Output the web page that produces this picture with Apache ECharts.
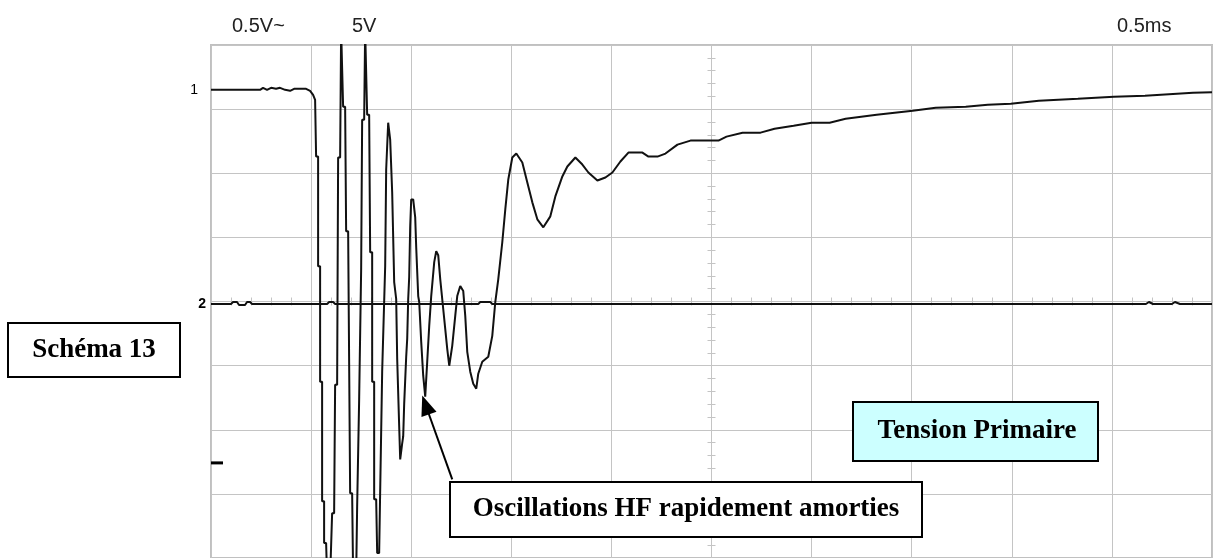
<!DOCTYPE html>
<html><head><meta charset="utf-8">
<script src="https://cdn.jsdelivr.net/npm/echarts@6/dist/echarts.min.js"></script>
<style>html,body{margin:0;padding:0;background:#fff;}#c{width:1218px;height:558px;}</style>
</head><body><div id="c"></div>
<script>
// Channel 1 (primary voltage) — time in divisions (0.5 ms/div), level in divisions
const ch1Time = [0,0.49,0.52,0.56,0.60,0.65,0.69,0.74,0.79,0.83,0.95,0.99,1.02,1.04,
 1.05,1.07,1.07,1.09,1.09,1.11,1.11,1.13,1.13,1.15,1.16,1.19,1.21,1.23,1.24,1.26,1.27,1.29,1.30,1.31,
 1.32,1.34,1.35,1.37,1.39,1.41,1.42,1.45,1.46,1.47,1.48,1.49,1.50,1.51,1.51,1.53,1.54,1.55,
 1.56,1.58,1.59,1.61,1.61,1.63,1.63,1.65,1.66,1.68,1.69,1.70,1.71,1.72,1.74,1.75,1.76,1.77,1.78,
 1.79,1.80,1.81,1.82,1.83,1.85,1.86,1.87,1.88,1.89,1.90,1.91,1.92,1.93,1.94,1.95,1.96,1.97,1.98,1.99,2.00,
 2.02,2.04,2.05,2.06,2.07,2.08,2.10,2.12,2.14,2.15,2.16,2.18,2.20,2.23,2.25,2.27,2.29,2.32,2.34,2.36,2.38,2.39,
 2.41,2.44,2.46,2.49,2.50,2.52,2.54,2.56,2.59,2.62,2.65,2.67,2.71,2.77,2.81,2.84,2.87,2.91,2.94,2.97,3.01,3.05,
 3.11,3.16,3.21,3.26,3.32,3.39,3.44,3.51,3.56,3.64,3.71,3.77,3.86,3.94,4.01,4.09,4.17,4.31,4.37,4.46,4.54,4.66,4.79,
 5.07,5.15,5.31,5.49,5.63,5.82,6.00,6.18,6.34,6.65,6.83,7.01,7.24,7.54,7.76,7.99,8.27,8.66,9.02,9.33,9.49,9.81,10.00];
const ch1Volt = [7.301,7.301,7.332,7.301,7.332,7.317,7.332,7.301,7.286,7.317,7.317,7.286,7.223,7.146,
 6.260,6.260,4.551,4.551,2.750,2.750,0.885,0.885,0.233,0.233,-0.311,-0.311,0.699,0.699,2.703,2.703,6.245,6.245,8.233,8.233,
 7.037,7.037,5.095,5.095,1.010,1.010,-0.311,-0.311,0.808,0.808,2.470,2.470,4.505,4.505,6.835,6.835,8.233,8.233,
 6.913,6.913,4.769,4.769,2.750,2.750,0.917,0.917,0.078,0.078,1.041,1.041,2.905,2.905,4.551,6.058,6.058,6.788,6.804,
 6.524,6.493,5.701,5.701,4.303,4.039,3.107,3.107,2.050,1.538,1.538,1.786,1.895,2.408,2.408,3.138,3.417,4.039,4.381,5.173,5.592,
 5.592,5.313,4.847,4.816,4.085,3.992,3.371,2.843,2.517,2.532,3.060,3.619,4.085,4.614,4.784,4.722,4.350,3.883,3.573,3.262,2.998,2.998,
 3.309,3.775,4.085,4.241,4.272,4.163,3.775,3.216,2.905,2.718,2.641,2.874,3.060,3.138,3.464,3.992,4.350,4.924,5.437,5.903,6.245,6.307,
 6.167,5.856,5.546,5.282,5.157,5.328,5.639,5.950,6.105,6.245,6.136,6.012,5.887,5.934,6.012,6.183,6.322,6.322,6.260,6.260,6.307,6.447,6.509,
 6.509,6.571,6.633,6.633,6.695,6.742,6.788,6.788,6.850,6.913,6.944,6.975,7.021,7.037,7.068,7.083,7.130,7.161,7.192,7.208,7.223,7.254,7.262];

// Channel 2 — flat trace with small glitches
const ch2Time = [0,0.20,0.22,0.26,0.28,0.34,0.36,0.39,0.41,1.16,1.18,1.22,1.24,2.67,2.69,2.79,2.81,9.34,9.37,9.41,9.60,9.63,9.68,10];
const ch2Volt = [3.961,3.961,3.992,3.992,3.946,3.946,3.992,3.992,3.961,3.961,3.992,3.992,3.961,3.961,3.992,3.992,3.961,3.961,3.992,3.961,3.961,3.992,3.961,3.961];

const channelLabels = ['1', '2'];
const groundMarker = [0.06, 1.483];
const settingLabels = ['0.5V~', '5V', '0.5ms'];
const arrowFrom = [2.41, 1.227];
const arrowTo = [2.144, 2.386];
const boxTexts = ['Schéma 13', 'Tension Primaire', 'Oscillations HF rapidement amorties'];

const ch1 = ch1Time.map((t, i) => [t, ch1Volt[i]]);
const ch2 = ch2Time.map((t, i) => [t, ch2Volt[i]]);

const gridCol = '#c4c4c4';
const hid = {show: false};

const chart = echarts.init(document.getElementById('c'), null, {renderer: 'canvas'});
chart.setOption({
  animation: false,
  backgroundColor: '#fff',
  grid: {left: 211, top: 45, right: 6, bottom: -2, show: true, borderColor: '#c0c0c0', borderWidth: 2, backgroundColor: 'transparent'},
  xAxis: [
    {type: 'value', min: 0, max: 10, interval: 1, axisLine: hid, axisTick: hid, axisLabel: hid,
     splitLine: {show: true, lineStyle: {color: gridCol, width: 1}}},
    {type: 'value', min: 0, max: 10, interval: 0.2, position: 'bottom',
     axisLine: {show: true, onZero: true, onZeroAxisIndex: 1, lineStyle: {color: gridCol, width: 1}},
     axisTick: {show: true, inside: true, length: 4, lineStyle: {color: gridCol, width: 1}}, axisLabel: hid, splitLine: hid},
    {type: 'value', min: 0, max: 10, interval: 0.2, position: 'bottom',
     axisLine: {show: true, onZero: true, onZeroAxisIndex: 1, lineStyle: {color: gridCol, width: 1}},
     axisTick: {show: true, inside: false, length: 4, lineStyle: {color: gridCol, width: 1}}, axisLabel: hid, splitLine: hid},
    {type: 'value', min: -5, max: 5, axisLine: hid, axisTick: hid, axisLabel: hid, splitLine: hid}
  ],
  yAxis: [
    {type: 'value', min: 0, max: 8, interval: 1, axisLine: hid, axisTick: hid, axisLabel: hid,
     splitLine: {show: true, lineStyle: {color: gridCol, width: 1}}},
    {type: 'value', min: -4, max: 4, axisLine: hid, axisTick: hid, axisLabel: hid, splitLine: hid},
    {type: 'value', min: 0, max: 8, interval: 0.2, position: 'left',
     axisLine: {show: true, onZero: true, onZeroAxisIndex: 3, lineStyle: {color: gridCol, width: 1}},
     axisTick: {show: true, inside: true, length: 4, lineStyle: {color: gridCol, width: 1}}, axisLabel: hid, splitLine: hid},
    {type: 'value', min: 0, max: 8, interval: 0.2, position: 'left',
     axisLine: {show: true, onZero: true, onZeroAxisIndex: 3, lineStyle: {color: gridCol, width: 1}},
     axisTick: {show: true, inside: false, length: 4, lineStyle: {color: gridCol, width: 1}}, axisLabel: hid, splitLine: hid}
  ],
  series: [
    {type: 'line', name: 'ch2', xAxisIndex: 0, yAxisIndex: 0, data: ch2, showSymbol: false, symbol: 'none',
     lineStyle: {color: '#111', width: 2}, z: 3,
     markPoint: {silent: true, animation: false, data: [
       {coord: [0, ch2Volt[0]], symbol: 'circle', symbolSize: 0,
        label: {show: true, formatter: channelLabels[1], position: 'left', distance: 5, color: '#000', fontFamily: 'Liberation Sans', fontSize: 14, fontWeight: 'bold'}},
       {coord: groundMarker, symbol: 'rect', symbolSize: [12, 3], itemStyle: {color: '#000'}, label: {show: false}}
     ]}},
    {type: 'line', name: 'ch1', xAxisIndex: 0, yAxisIndex: 0, data: ch1, showSymbol: false, symbol: 'none',
     lineStyle: {color: '#111', width: 2}, z: 4, clip: true,
     markPoint: {silent: true, animation: false, data: [
       {coord: [0, ch1Volt[0]], symbol: 'circle', symbolSize: 0,
        label: {show: true, formatter: channelLabels[0], position: 'left', distance: 13, color: '#000', fontFamily: 'Liberation Sans', fontSize: 14}}
     ]},
     markLine: {silent: true, animation: false, symbol: ['none', 'triangle'], symbolSize: [16, 20],
       lineStyle: {color: '#000', width: 2, type: 'solid'}, label: {show: false},
       data: [[{coord: arrowFrom}, {coord: arrowTo}]]}}
  ],
  graphic: [
    {type: 'text', x: 232, y: 26, style: {text: settingLabels[0], font: '20px "Liberation Sans", Arial, sans-serif', fill: '#222', verticalAlign: 'middle'}},
    {type: 'text', x: 352, y: 26, style: {text: settingLabels[1], font: '20px "Liberation Sans", Arial, sans-serif', fill: '#222', verticalAlign: 'middle'}},
    {type: 'text', x: 1117, y: 26, style: {text: settingLabels[2], font: '20px "Liberation Sans", Arial, sans-serif', fill: '#222', verticalAlign: 'middle'}},
    {type: 'rect', shape: {x: 8, y: 323, width: 172, height: 54}, style: {fill: '#fff', stroke: '#000', lineWidth: 2}, z: 100},
    {type: 'text', x: 94, y: 350, z: 101, style: {text: boxTexts[0], font: 'bold 27px "Liberation Serif", "Times New Roman", serif', fill: '#000', align: 'center', verticalAlign: 'middle'}},
    {type: 'rect', shape: {x: 853, y: 402, width: 245, height: 59}, style: {fill: '#ccffff', stroke: '#000', lineWidth: 2}, z: 100},
    {type: 'text', x: 977, y: 431.5, z: 101, style: {text: boxTexts[1], font: 'bold 27px "Liberation Serif", "Times New Roman", serif', fill: '#000', align: 'center', verticalAlign: 'middle'}},
    {type: 'rect', shape: {x: 450, y: 482, width: 472, height: 55}, style: {fill: '#fff', stroke: '#000', lineWidth: 2}, z: 100},
    {type: 'text', x: 686, y: 509.5, z: 101, style: {text: boxTexts[2], font: 'bold 27px "Liberation Serif", "Times New Roman", serif', fill: '#000', align: 'center', verticalAlign: 'middle'}}
  ]
});
</script>
</body></html>
